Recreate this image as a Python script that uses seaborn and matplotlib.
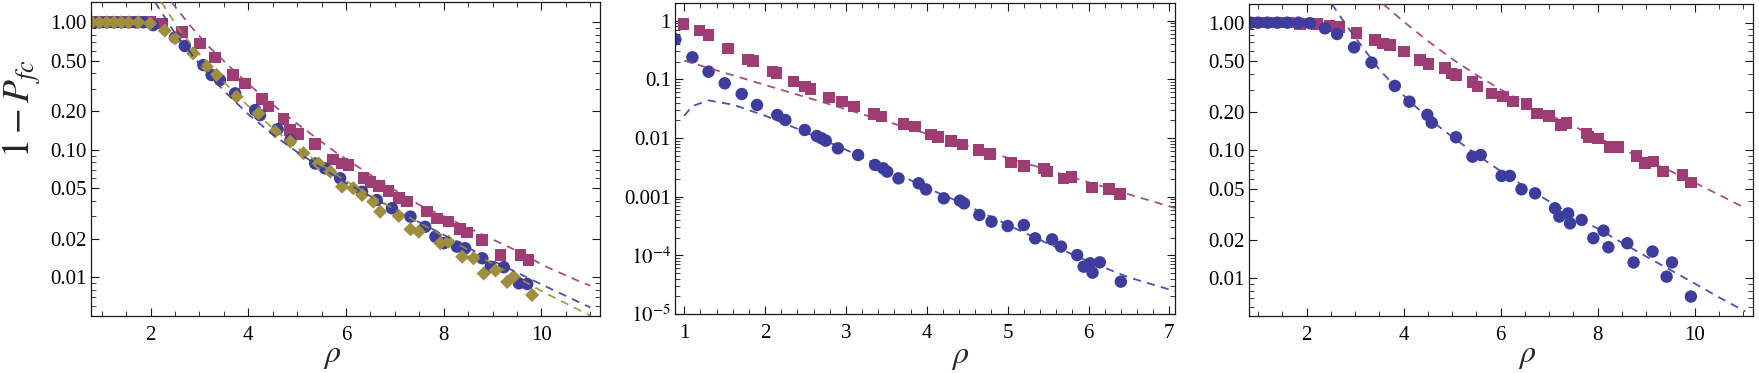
import numpy as np
import pandas as pd
import matplotlib
matplotlib.use("Agg")
import matplotlib.pyplot as plt
from matplotlib.ticker import FixedLocator, FixedFormatter, NullFormatter
import seaborn as sns

# ---------------- data ----------------
# Panel 1
p1_sq_x = [0.8, 0.95, 1.1, 1.25, 1.4, 1.55, 1.7, 1.85, 2.0, 2.23, 2.64, 3.01, 3.32, 3.69, 3.93,
           4.28, 4.41, 4.72, 4.86, 5.03, 5.37, 5.74, 5.92, 6.05, 6.36, 6.50, 6.67, 6.87, 7.08,
           7.25, 7.66, 7.86, 8.10, 8.34, 8.48, 8.79, 9.16, 9.57, 9.74]
p1_sq_y = [1, 1, 1, 1, 1, 1, 1, 1, 1, 0.98, 0.835, 0.684, 0.531, 0.386, 0.332,
           0.249, 0.218, 0.174, 0.143, 0.133, 0.111, 0.084, 0.078, 0.076, 0.0598, 0.0562, 0.052, 0.0475, 0.0417,
           0.0392, 0.0327, 0.029, 0.0273, 0.0238, 0.0224, 0.0196, 0.015, 0.015, 0.0137]
p1_ci_x = [0.8, 0.95, 1.1, 1.25, 1.4, 1.55, 1.7, 1.85, 2.05, 2.5, 2.70, 3.08, 3.25, 3.42, 3.73,
           4.14, 4.24, 4.6, 4.86, 5.37, 5.57, 5.88, 6.33, 6.63, 6.94, 7.32, 7.62, 7.83, 8.0,
           8.27, 8.44, 8.79, 8.96, 9.23, 9.54, 9.71]
p1_ci_y = [1, 1, 1, 1, 1, 1, 1, 1, 0.95, 0.76, 0.652, 0.462, 0.386, 0.353, 0.277,
           0.205, 0.187, 0.145, 0.119, 0.078, 0.0716, 0.0598, 0.0469, 0.0404, 0.0348, 0.0299, 0.0249, 0.0208, 0.0185,
           0.0174, 0.0169, 0.0141, 0.0121, 0.012, 0.00897, 0.00886]
p1_di_x = [0.8, 0.95, 1.1, 1.25, 1.4, 1.55, 1.75, 1.99, 2.29, 2.50, 2.87, 3.15, 3.35, 3.76, 4.21,
           4.55, 4.86, 5.13, 5.44, 5.68, 5.92, 6.15, 6.33, 6.56, 6.70, 7.08, 7.32, 7.49, 7.93,
           8.10, 8.38, 8.61, 8.82, 9.06, 9.30, 9.43, 9.81]
p1_di_y = [1, 1, 1, 1, 1, 1, 1, 0.98, 0.86, 0.75, 0.571, 0.449, 0.386, 0.261, 0.193,
           0.139, 0.116, 0.094, 0.078, 0.0674, 0.0514, 0.0499, 0.0442, 0.0392, 0.0327, 0.0303, 0.0238, 0.0228, 0.0185,
           0.019, 0.0145, 0.0141, 0.0107, 0.0113, 0.0092, 0.0101, 0.00726]
p1_fit_m_x = [2.43, 2.8, 3.2, 3.7, 4.3, 5.0, 5.8, 6.6, 7.5, 8.4, 9.4, 10.1, 10.8, 11.0]
p1_fit_m_y = [1.44, 0.95, 0.64, 0.42, 0.26, 0.16, 0.095, 0.06, 0.037, 0.0255, 0.0168, 0.0121, 0.0092, 0.0086]
p1_fit_b_x = [2.09, 2.5, 3.0, 3.5, 4.0, 4.5, 5.0, 5.5, 6.0, 7.0, 8.0, 9.0, 10.0, 11.0]
p1_fit_b_y = [1.44, 0.82, 0.47, 0.29, 0.19, 0.132, 0.096, 0.072, 0.055, 0.034, 0.0215, 0.0135, 0.0088, 0.0058]
p1_fit_g_x = [2.22, 2.6, 3.0, 3.5, 4.0, 4.5, 5.0, 5.5, 6.0, 7.0, 8.0, 9.0, 10.0, 11.0]
p1_fit_g_y = [1.44, 0.86, 0.56, 0.34, 0.22, 0.148, 0.104, 0.076, 0.057, 0.034, 0.021, 0.0128, 0.0078, 0.0050]

# Panel 2
p2_sq_x = [0.99, 1.19, 1.30, 1.54, 1.79, 1.85, 2.09, 2.14, 2.35, 2.49, 2.56, 2.79, 2.95, 3.10, 3.35,
           3.44, 3.71, 3.85, 4.05, 4.14, 4.30, 4.44, 4.64, 4.78, 5.04, 5.20, 5.45, 5.49, 5.69,
           5.79, 6.04, 6.25, 6.39]
p2_sq_y = [0.877, 0.675, 0.57, 0.337, 0.219, 0.205, 0.135, 0.127, 0.0912, 0.075, 0.0685, 0.0493, 0.0416,
           0.0342, 0.0256, 0.0231, 0.0173, 0.0156, 0.0115, 0.0105, 0.0089, 0.0078, 0.00624, 0.00534,
           0.00385, 0.00337, 0.00304, 0.00267, 0.00205, 0.00219, 0.00144, 0.00135, 0.0011]
p2_ci_x = [0.89, 1.10, 1.30, 1.50, 1.71, 1.90, 2.15, 2.25, 2.49, 2.64, 2.70, 2.75, 2.90, 3.15, 3.36,
           3.46, 3.51, 3.65, 3.90, 3.99, 4.21, 4.41, 4.46, 4.65, 4.80, 5.00, 5.20, 5.34, 5.55,
           5.66, 5.86, 5.94, 6.02, 6.05, 6.14, 6.40]
p2_ci_y = [0.48, 0.237, 0.135, 0.0855, 0.0562, 0.0365, 0.0247, 0.0203, 0.0137, 0.0108, 0.00986, 0.00901,
           0.00667, 0.00513, 0.00347, 0.00304, 0.00267, 0.00205, 0.00169, 0.00133, 0.000937, 0.000855,
           0.000769, 0.000487, 0.000375, 0.000316, 0.000329, 0.000195, 0.000187, 0.000141, 0.000101,
           0.0000641, 0.0000731, 0.0000507, 0.0000761, 0.0000356]
p2_fit_m_x = [1.0, 2.0, 3.0, 4.0, 5.0, 6.0, 7.07]
p2_fit_m_y = [0.208, 0.080, 0.031, 0.0118, 0.0046, 0.00176, 0.00064]
p2_fit_b_x = [1.0, 1.1, 1.3, 1.6, 2.0, 2.5, 3.0, 3.5, 4.0, 4.5, 5.0, 5.5, 6.0, 6.5, 7.07]
p2_fit_b_y = [0.024, 0.035, 0.0437, 0.037, 0.024, 0.0126, 0.0063, 0.0030, 0.00141, 0.00071, 0.00033,
              0.000158, 0.000079, 0.000042, 0.0000245]

# Panel 3
p3_sq_x = [0.85, 0.95, 1.05, 1.15, 1.25, 1.35, 1.45, 1.62, 1.86, 2.22, 2.47, 2.67, 3.03, 3.41, 3.57,
           3.72, 4.01, 4.34, 4.51, 4.85, 4.99, 5.08, 5.42, 5.52, 5.81, 6.05, 6.26, 6.53, 6.75,
           7.0, 7.25, 7.36, 7.77, 7.81, 8.01, 8.25, 8.43, 8.80, 8.98, 9.15, 9.35, 9.75, 9.92]
p3_sq_y = [1, 1, 1, 1, 1, 1, 1, 1, 0.976, 0.976, 0.94, 0.92, 0.826, 0.732, 0.689,
           0.669, 0.593, 0.51, 0.475, 0.44, 0.401, 0.39, 0.345, 0.316, 0.28, 0.264, 0.241, 0.23, 0.195,
           0.186, 0.158, 0.165, 0.136, 0.128, 0.124, 0.107, 0.107, 0.0906, 0.0794, 0.0818, 0.0683, 0.0643, 0.056]
p3_ci_x = [0.85, 1.0, 1.2, 1.4, 1.6, 1.83, 2.07, 2.38, 2.63, 2.98, 3.34, 3.82, 4.12, 4.49, 4.58,
           5.08, 5.42, 5.59, 6.02, 6.19, 6.43, 6.71, 7.12, 7.21, 7.39, 7.43, 7.67, 7.91, 8.12,
           8.22, 8.61, 8.74, 9.13, 9.42, 9.53, 9.92]
p3_ci_y = [1, 1, 1, 1, 1, 1.0, 0.99, 0.903, 0.815, 0.641, 0.487, 0.32, 0.241, 0.19, 0.165,
           0.127, 0.0895, 0.0922, 0.0632, 0.0632, 0.0497, 0.0462, 0.0353, 0.0304, 0.0322, 0.0269, 0.0286,
           0.0206, 0.0236, 0.0175, 0.0188, 0.0133, 0.0162, 0.0103, 0.0133, 0.0072]
p3_fit_m_x = [3.58, 4.0, 4.5, 5.0, 5.5, 6.0, 6.5, 7.0, 7.5, 8.0, 8.5, 9.0, 9.5, 10.0, 10.5, 11.05]
p3_fit_m_y = [1.40, 1.02, 0.72, 0.52, 0.39, 0.30, 0.236, 0.19, 0.155, 0.126, 0.103, 0.084, 0.069,
              0.056, 0.045, 0.0353]
p3_fit_b_x = [2.52, 2.8, 3.0, 3.5, 4.0, 4.5, 5.0, 5.5, 6.0, 6.5, 7.0, 7.5, 8.0, 8.5, 9.0, 9.5, 10.0, 10.5, 11.04]
p3_fit_b_y = [1.40, 0.98, 0.77, 0.43, 0.27, 0.18, 0.128, 0.093, 0.069, 0.052, 0.040, 0.031, 0.0245,
              0.0190, 0.0148, 0.0116, 0.0091, 0.0071, 0.0055]

# ---------------- style ----------------
sns.set_style("ticks")
plt.rcParams['font.family'] = ['Liberation Serif', 'DejaVu Serif']
plt.rcParams['mathtext.fontset'] = 'stix'

BLUE = "#3d3d9e"
MAG = "#9e3d74"
GOLD = "#9e8e3d"
DASH = (0, (4.5, 3.5))

fig = plt.figure(figsize=(17.59, 3.73), dpi=100)
W, H = 1759.0, 373.0


def add_ax(l, r, t, b):
    return fig.add_axes([l / W, 1 - b / H, (r - l) / W, (b - t) / H])


ax1 = add_ax(91, 600, 2, 316)
ax2 = add_ax(675, 1175, 3, 314)
ax3 = add_ax(1249, 1753, 4, 316)


def scat(ax, x, y, color, marker, s, z=2):
    df = pd.DataFrame({"x": x, "y": y})
    sns.scatterplot(data=df, x="x", y="y", ax=ax, color=color, marker=marker, s=s,
                    linewidth=0, edgecolor="none", zorder=z, clip_on=True)


def fit(ax, x, y, color):
    df = pd.DataFrame({"x": x, "y": y})
    sns.lineplot(data=df, x="x", y="y", ax=ax, color=color, lw=1.3, linestyle=DASH,
                 estimator=None, sort=False, zorder=4, alpha=0.9)


S_CI, S_SQ, S_DI = 80, 70, 52

# Panel 1
scat(ax1, p1_sq_x, p1_sq_y, MAG, "s", S_SQ)
scat(ax1, p1_ci_x, p1_ci_y, BLUE, "o", S_CI)
scat(ax1, p1_di_x, p1_di_y, GOLD, "D", S_DI)
fit(ax1, p1_fit_m_x, p1_fit_m_y, MAG)
fit(ax1, p1_fit_b_x, p1_fit_b_y, BLUE)
fit(ax1, p1_fit_g_x, p1_fit_g_y, GOLD)

# Panel 2
scat(ax2, p2_sq_x, p2_sq_y, MAG, "s", S_SQ)
scat(ax2, p2_ci_x, p2_ci_y, BLUE, "o", S_CI)
fit(ax2, p2_fit_m_x, p2_fit_m_y, MAG)
fit(ax2, p2_fit_b_x, p2_fit_b_y, BLUE)

# Panel 3
scat(ax3, p3_sq_x, p3_sq_y, MAG, "s", S_SQ)
scat(ax3, p3_ci_x, p3_ci_y, BLUE, "o", S_CI)
fit(ax3, p3_fit_m_x, p3_fit_m_y, MAG)
fit(ax3, p3_fit_b_x, p3_fit_b_y, BLUE)

FS = 15

lin_major = [0.01, 0.02, 0.05, 0.1, 0.2, 0.5, 1.0]
lin_labels = ["0.01", "0.02", "0.05", "0.10", "0.20", "0.50", "1.00"]
lin_minor = [0.005, 0.006, 0.007, 0.008, 0.009, 0.03, 0.04, 0.06, 0.07, 0.08, 0.09,
             0.3, 0.4, 0.6, 0.7, 0.8, 0.9]

dec_major = [1e-5, 1e-4, 1e-3, 1e-2, 1e-1, 1.0]
dec_labels = [r"$10^{-5}$", r"$10^{-4}$", "0.001", "0.01", "0.1", "1"]
dec_minor = [m * 10.0 ** e for e in range(-5, 1) for m in range(2, 10)]

for ax in (ax1, ax2, ax3):
    ax.set_yscale("log")
    for sp in ax.spines.values():
        sp.set_color("#1a1a1a")
        sp.set_linewidth(0.9)
        sp.set_visible(True)
    ax.tick_params(which="both", direction="in", top=True, right=True,
                   color="#1a1a1a", labelsize=FS, labelcolor="black")
    ax.tick_params(which="major", length=6, width=0.8)
    ax.tick_params(which="minor", length=3.5, width=0.6)
    ax.tick_params(axis="x", which="major", pad=7)
    ax.tick_params(axis="y", which="major", pad=3)
    ax.set_xlabel(r"$\rho$", fontsize=23, va="center", ha="center")
    ax.set_ylabel("")

for ax in (ax1, ax3):
    ax.set_xlim(0.78 if ax is ax1 else 0.815, 11.2)
    ax.set_ylim(0.00497 if ax is ax1 else 0.00507, 1.443 if ax is ax1 else 1.40)
    ax.xaxis.set_major_locator(FixedLocator([2, 4, 6, 8, 10]))
    ax.xaxis.set_major_formatter(FixedFormatter(["2", "4", "6", "8", "10"]))
    ax.xaxis.set_minor_locator(FixedLocator(np.arange(1.0, 11.01, 0.5)))
    ax.yaxis.set_major_locator(FixedLocator(lin_major))
    ax.yaxis.set_major_formatter(FixedFormatter(lin_labels))
    ax.yaxis.set_minor_locator(FixedLocator(lin_minor))
    ax.yaxis.set_minor_formatter(NullFormatter())

ax2.set_xlim(0.885, 7.07)
ax2.set_ylim(1e-5, 2.0)
ax2.xaxis.set_major_locator(FixedLocator([1, 2, 3, 4, 5, 6, 7]))
ax2.xaxis.set_major_formatter(FixedFormatter(["1", "2", "3", "4", "5", "6", "7"]))
ax2.xaxis.set_minor_locator(FixedLocator(np.arange(1.0, 7.01, 0.2)))
ax2.yaxis.set_major_locator(FixedLocator(dec_major))
ax2.yaxis.set_major_formatter(FixedFormatter(dec_labels))
ax2.yaxis.set_minor_locator(FixedLocator(dec_minor))
ax2.yaxis.set_minor_formatter(NullFormatter())

ax1.set_ylabel(r"$1-P_{fc}$", fontsize=27, va="center", ha="center")
ax1.yaxis.set_label_coords(-0.136, 0.66)
ax1.xaxis.set_label_coords(0.473, -0.13)
ax2.xaxis.set_label_coords(0.57, -0.14)
ax3.xaxis.set_label_coords(0.551, -0.13)

fig.savefig("out.png", dpi=100, facecolor="white")
